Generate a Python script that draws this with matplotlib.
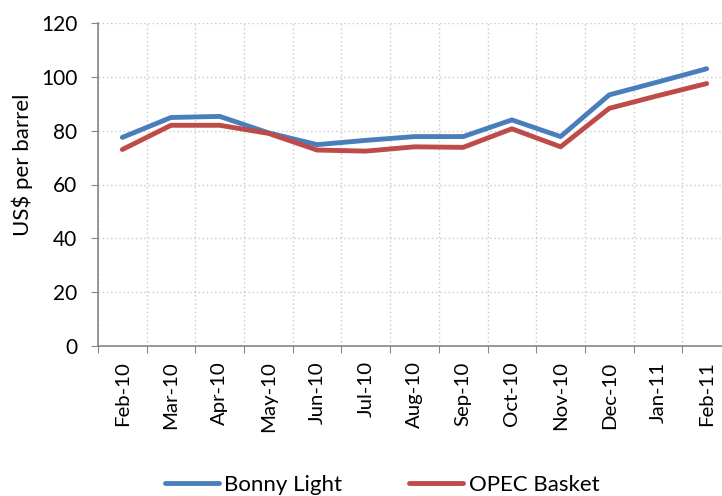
import matplotlib.pyplot as plt
import numpy as np

# monthly prices, US$ per barrel
months = ["Feb-10", "Mar-10", "Apr-10", "May-10", "Jun-10", "Jul-10", "Aug-10",
          "Sep-10", "Oct-10", "Nov-10", "Dec-10", "Jan-11", "Feb-11"]
bonny_light = [77.5, 84.9, 85.3, 79.2, 74.8, 76.4, 77.8, 77.8, 84.0, 77.8, 93.3, 98.1, 103.0]
opec_basket = [73.0, 82.0, 82.0, 79.0, 72.8, 72.4, 74.0, 73.8, 80.7, 74.0, 88.3, 93.0, 97.5]

plt.rcParams['font.family'] = ['Lato', 'DejaVu Sans']

fig = plt.figure(figsize=(7.22, 4.96), dpi=100)
ax = fig.add_axes([98 / 722, 150 / 496, 633 / 722, 323 / 496])

x = np.arange(len(months))
ax.plot(x, bonny_light, color="#4A7EBB", lw=3.5, solid_capstyle="round", label="Bonny Light")
ax.plot(x, opec_basket, color="#BE4B48", lw=3.5, solid_capstyle="round", label="OPEC Basket")

ax.set_xlim(-0.5, len(months) - 0.5)
ax.set_ylim(0, 120)
ax.set_yticks(range(0, 121, 20))
ax.tick_params(axis="y", labelsize=15, length=5, color="#868686", pad=10)

# category boundaries as ticks, labels in the middle
ax.set_xticks(np.arange(-0.5, len(months), 1.0))
ax.set_xticklabels([])
ax.set_xticks(x, minor=True)
ax.set_xticklabels(months, minor=True, rotation=90, fontsize=14.7)
ax.tick_params(axis="x", which="major", length=5, color="#868686")
ax.tick_params(axis="x", which="minor", length=0, pad=11)

ax.grid(True, which="major", linestyle=(0, (1, 2)), color="#C8C8C8", lw=1)
ax.set_axisbelow(True)
for s in ["top", "right"]:
    ax.spines[s].set_visible(False)
for s in ["left", "bottom"]:
    ax.spines[s].set_color("#868686")
    ax.spines[s].set_linewidth(1.2)

ax.set_ylabel("US$ per barrel", fontsize=16)
ax.yaxis.set_label_coords(-0.103, 0.562)

fig.legend(loc="center", bbox_to_anchor=(0.529, 0.022), ncol=2, frameon=False,
           fontsize=16, handlelength=2.45, handletextpad=0.23, columnspacing=3.0)

plt.savefig("out.png", dpi=100)
